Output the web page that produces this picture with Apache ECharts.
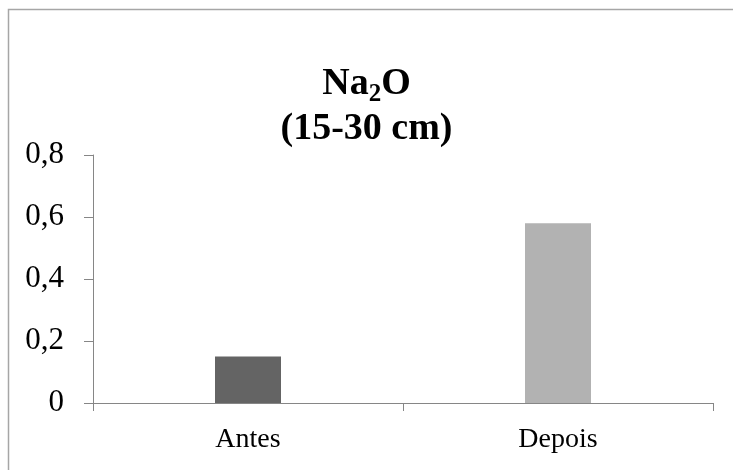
<!DOCTYPE html>
<html>
<head>
<meta charset="utf-8">
<script src="https://cdn.jsdelivr.net/npm/echarts@6/dist/echarts.min.js"></script>
<style>
  html, body { margin: 0; padding: 0; background: #ffffff; }
  #chart { width: 733px; height: 470px; }
</style>
</head>
<body>
<div id="chart"></div>
<script>
// Sampling periods and Na2O content (15-30 cm layer)
const categories = ['Antes', 'Depois'];
const values = [0.15, 0.58];
const barColors = ['#646464', '#b2b2b2'];
const yTicks = { min: 0, max: 0.8, interval: 0.2 };

const chart = echarts.init(document.getElementById('chart'), null, { renderer: 'canvas' });
const serif = '"Liberation Serif", "Times New Roman", serif';

chart.setOption({
  backgroundColor: '#ffffff',
  animation: false,
  title: {
    text: '{b|Na}{s|2}{b|O}\n{b|(15-30 cm)}',
    left: 'center',
    top: 62,
    padding: [0, 12, 0, 0],
    textStyle: {
      rich: {
        b: { fontFamily: serif, fontWeight: 'bold', fontSize: 38, color: '#000', lineHeight: 45 },
        s: { fontFamily: serif, fontWeight: 'bold', fontSize: 25, color: '#000', lineHeight: 45, verticalAlign: 'bottom', padding: [14, 0, 0, 0] }
      }
    }
  },
  grid: { left: 93, right: 20, top: 155, bottom: 67, containLabel: false },
  xAxis: {
    type: 'category',
    data: categories,
    boundaryGap: true,
    axisLine: { lineStyle: { color: '#868686', width: 1 } },
    axisTick: { show: true, alignWithLabel: false, length: 8, lineStyle: { color: '#868686' } },
    axisLabel: { color: '#000', fontFamily: serif, fontSize: 28, margin: 23 },
    splitLine: { show: false }
  },
  yAxis: {
    type: 'value',
    min: yTicks.min,
    max: yTicks.max,
    interval: yTicks.interval,
    axisLine: { show: true, lineStyle: { color: '#868686', width: 1 } },
    axisTick: { show: true, length: 9, lineStyle: { color: '#868686' } },
    axisLabel: {
      color: '#000', fontFamily: serif, fontSize: 31, margin: 29,
      formatter: v => (Math.round(v * 10) / 10).toString().replace('.', ',')
    },
    splitLine: { show: false }
  },
  series: [{
    type: 'bar',
    data: values.map((v, i) => ({ value: v, itemStyle: { color: barColors[i] } })),
    barWidth: 66
  }],
  graphic: [{
    type: 'rect',
    shape: { x: 8.5, y: 9.5, width: 740, height: 480 },
    style: { fill: 'none', stroke: '#a6a6a6', lineWidth: 1.5 },
    silent: true,
    z: 100
  }]
});
</script>
</body>
</html>
